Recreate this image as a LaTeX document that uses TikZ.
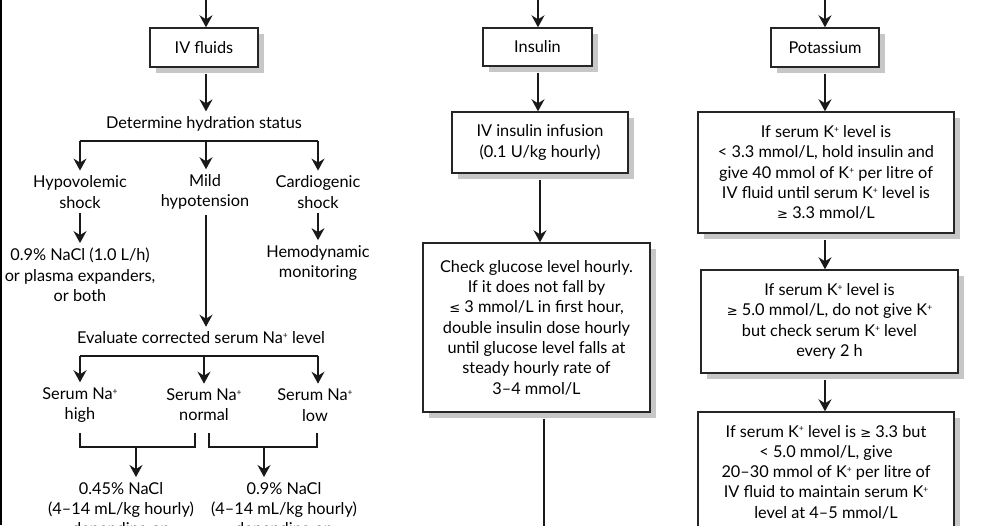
\documentclass[tikz,border=0pt]{standalone}
\usepackage{fontspec}
\setmainfont{Lato}
\newfontfamily\symf{DejaVu Sans}[Scale=0.8]
\usetikzlibrary{arrows.meta,shadows,calc}
\newcommand{\mygeq}{{\symf ≥}}
\newcommand{\myleq}{{\symf ≤}}
\newcommand{\kp}{\raisebox{0.62ex}{\fontsize{8.5}{8.5}\selectfont +}}
\newcommand{\myfs}{\fontsize{16.3}{20.3}\selectfont}
\begin{document}
\begin{tikzpicture}[x=1pt,y=-1pt,
  line/.style={line width=1.6pt, black!90},
  arr/.style={line width=1.6pt, black!90, -{Stealth[length=12pt,width=13pt,inset=4pt]}},
  txt/.style={align=center, inner sep=5pt, font=\myfs},
  box/.style={draw=black!85, line width=1.4pt, fill=white, align=center, inner sep=0pt, font=\myfs,
    general shadow={fill=black!22, shadow xshift=6pt, shadow yshift=-6pt}}]
\useasboundingbox (0,0) rectangle (1000,525);
\fill[white] (0,0) rectangle (1000,525);
\draw[line width=2pt, black] (1,0) -- (1,525);

% ---------- boxes ----------
\node[box, minimum width=108pt, minimum height=39pt] (ivf) at (204,47.5) {IV fluids};
\node[box, minimum width=109pt, minimum height=38pt] (ins) at (537.5,47) {Insulin};
\node[box, minimum width=108pt, minimum height=39pt] (pot) at (825,47.5) {Potassium};
\node[box, minimum width=176pt, minimum height=61pt] (ivinf) at (540,142.5) {IV insulin infusion\\(0.1 U/kg hourly)};
\node[box, minimum width=227pt, minimum height=169pt] (chk) at (536.5,327.5) {Check glucose level hourly.\\If it does not fall by\\\myleq\ 3 mmol/L in first hour,\\double insulin dose hourly\\until glucose level falls at\\steady hourly rate of\\3–4 mmol/L};
\node[box, minimum width=256pt, minimum height=121pt] (k1) at (826,172.5) {If serum K\kp\ level is\\< 3.3 mmol/L, hold insulin and\\give 40 mmol of K\kp\ per litre of\\IV fluid until serum K\kp\ level is\\\mygeq\ 3.3 mmol/L};
\node[box, minimum width=257pt, minimum height=103pt] (k2) at (829.5,321.5) {If serum K\kp\ level is\\\mygeq\ 5.0 mmol/L, do not give K\kp\\but check serum K\kp\ level\\every 2 h};
\node[box, minimum width=256pt, minimum height=120pt] (k3) at (826,472) {If serum K\kp\ level is \mygeq\ 3.3 but\\< 5.0 mmol/L, give\\20–30 mmol of K\kp\ per litre of\\IV fluid to maintain serum K\kp\\level at 4–5 mmol/L};

% ---------- left column texts ----------
\node[txt] (det) at (204,124) {Determine hydration status};
\node[txt] (hypo) at (80,192) {Hypovolemic\\shock};
\node[txt] (mild) at (205,192) {Mild\\hypotension};
\node[txt] (card) at (318,192) {Cardiogenic\\shock};
\node[txt] (nacl) at (80,275) {0.9\% NaCl (1.0 L/h)\\or plasma expanders,\\or both};
\node[txt] (hemo) at (318,263) {Hemodynamic\\monitoring};
\node[txt] (eval) at (201,338) {Evaluate corrected serum Na\kp\ level};
\node[txt] (high) at (80,405) {Serum Na\kp\\high};
\node[txt] (norm) at (204,405) {Serum Na\kp\\normal};
\node[txt] (low) at (315,405) {Serum Na\kp\\low};
\node[txt] (n045) at (121,510) {0.45\% NaCl\\(4–14 mL/kg hourly)\\depending on};
\node[txt] (n09) at (284,510) {0.9\% NaCl\\(4–14 mL/kg hourly)\\depending on};

% ---------- coordinates ----------
\coordinate (in1) at (206,0);
\coordinate (in2) at (538,0);
\coordinate (in3) at (825,0);
\coordinate (b1l) at (80,141);
\coordinate (b1m) at (206,141);
\coordinate (b1r) at (318,141);
\coordinate (b2l) at (80,356);
\coordinate (b2m) at (204,356);
\coordinate (b2r) at (318,356);
\coordinate (ka) at (80,433);
\coordinate (kb) at (195,433);
\coordinate (kc) at (209,433);
\coordinate (kd) at (317,433);
\coordinate (kl) at (136,447);
\coordinate (kr) at (264,447);
\coordinate (mend) at (544,530);

% ---------- top arrows ----------
\draw[arr] (in1) -- (in1 |- ivf.north);
\draw[arr] (in2) -- (in2 |- ins.north);
\draw[arr] (in3) -- (in3 |- pot.north);

% ---------- left column connectors ----------
\draw[arr, shorten <=6pt] (in1 |- ivf.south) -- (in1 |- det.north);
\draw[line] (b1l) -- (b1r);
\draw[arr] (b1l) -- (b1l |- hypo.north);
\draw[arr] (b1m) -- (b1m |- mild.north);
\draw[arr] (b1r) -- (b1r |- card.north);
\draw[arr] (hypo.south) -- (hypo.south |- nacl.north);
\draw[arr] (b1r |- card.south) -- (b1r |- hemo.north);
\draw[arr] (b1m |- mild.south) -- (b1m |- eval.north);
\draw[line] (b2l) -- (b2r);
\draw[arr] (b2l) -- (b2l |- high.north);
\draw[arr] (b2m) -- (b2m |- norm.north);
\draw[arr] (b2r) -- (b2r |- low.north);
\draw[line] (ka) |- (kl) -| (kb);
\draw[line] (kc) |- (kr) -| (kd);
\draw[arr] (kl) -- (kl |- n045.north);
\draw[arr] (kr) -- (kr |- n09.north);

% ---------- middle column connectors ----------
\draw[arr, shorten <=6pt] (in2 |- ins.south) -- (in2 |- ivinf.north);
\draw[arr, shorten <=6pt] (540,0 |- ivinf.south) -- (540,0 |- chk.north);
\draw[line, shorten <=6pt] (mend |- chk.south) -- (mend);

% ---------- right column connectors ----------
\draw[arr, shorten <=6pt] (in3 |- pot.south) -- (in3 |- k1.north);
\draw[arr, shorten <=6pt] (in3 |- k1.south) -- (in3 |- k2.north);
\draw[arr, shorten <=6pt] (in3 |- k2.south) -- (in3 |- k3.north);
\end{tikzpicture}
\end{document}
